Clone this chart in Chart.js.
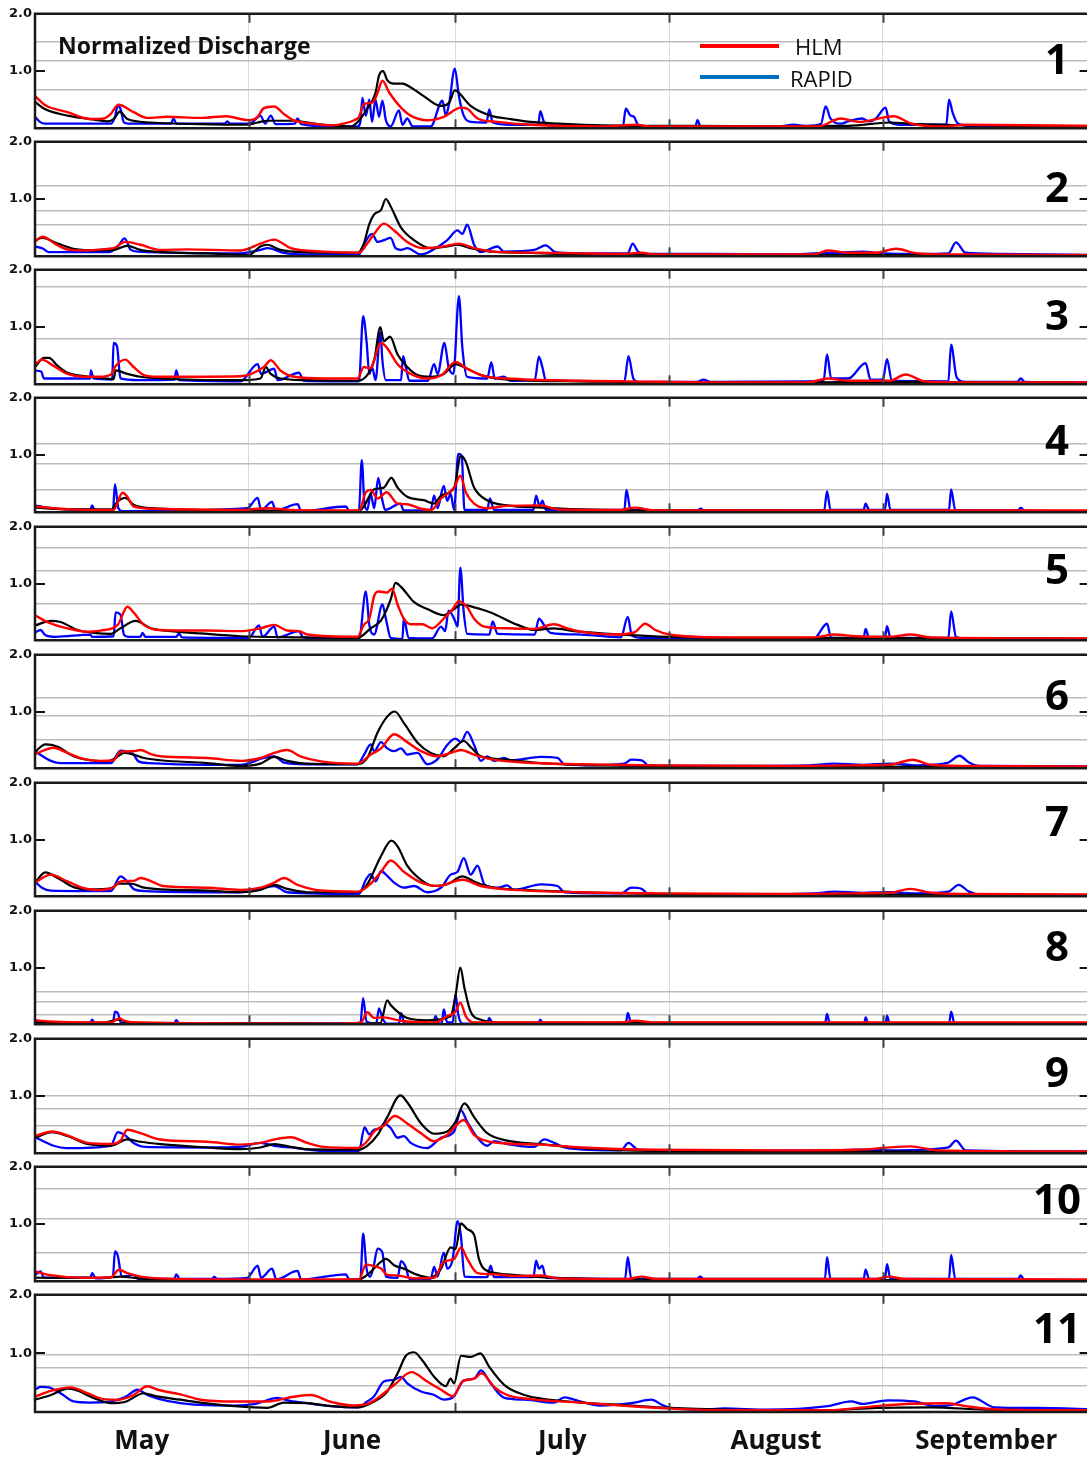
<!DOCTYPE html>
<html>
<head>
<meta charset="utf-8">
<script src="https://cdn.jsdelivr.net/npm/chart.js@4.4.1/dist/chart.umd.min.js"></script>
<style>
  body { margin: 0; background: #fff; }
  #wrap { position: relative; width: 1087px; height: 1458px; overflow: hidden; background: #fff; }
  #wrap canvas { position: absolute; left: 0; }
  .txt { position: absolute; white-space: nowrap; line-height: 1; transform: translateY(-50%); color: #111; }
  .num { position: absolute; line-height: 1; transform: translate(-50%, -50%); font: bold 42px 'Open Sans', sans-serif; color: #000; }
  .key { position: absolute; height: 4px; width: 79px; left: 700px; }
</style>
</head>
<body>
<div id="wrap"></div>
<script>
// x = days since May 1, y = normalized discharge
const monthStarts = [0, 31, 61, 92, 123, 153];
const monthNames = ['May', 'June', 'July', 'August', 'September'];
const yTickLabels = [1, 2];
const panelNames = ['1', '2', '3', '4', '5', '6', '7', '8', '9', '10', '11'];

// flood-threshold lines per panel (normalized)
const thresholds = [
  [1.52, 1.18, 0.68], [1.24, 0.80, 0.55], [1.71, 0.80], [1.19, 0.84, 0.39],
  [1.63, 1.22, 0.65], [1.25, 0.93, 0.51], [], [0.58, 0.39, 0.17],
  [1.0, 0.78, 0.48], [1.61, 1.10, 0.49], [0.97, 0.75, 0.45]
];

// observed (black), HLM (red), RAPID (blue)
const p1obs = [[0,.46],[1.5,.33],[4.7,.22],[8,.16],[10.5,.12],[11.5,.17],[12.3,.29],[13.4,.16],[16.8,.1],[24,.07],[30.8,.06],[32.3,.1],[33.7,.13],[37.5,.13],[40,.09],[42.9,.05],[45.8,.03],[46.8,.11],[48.2,.34],[49.4,.62],[49.9,.92],[50.5,1.0],[51.1,.84],[52.1,.78],[53.3,.78],[54.3,.73],[56.4,.56],[58.9,.39],[60.1,.45],[60.9,.66],[61.3,.64],[63.2,.39],[66.1,.22],[69,.16],[71.9,.11],[76,.08],[82,.05],[95,.04],[110,.03],[115,.04],[118,.04],[124,.1],[128,.07],[135,.05],[154.5,.03]];
const p1hlm = [[0,.56],[1.5,.4],[4.7,.28],[8,.16],[10,.17],[11,.25],[12.1,.41],[14.3,.28],[16.3,.18],[19.2,.2],[24,.18],[27.9,.21],[29.8,.16],[31.2,.14],[32.3,.2],[33.2,.35],[34.7,.38],[36.1,.25],[37.5,.14],[41,.07],[43,.05],[44.8,.08],[46.3,.14],[47,.2],[47.7,.42],[49,.45],[49.7,.62],[50.4,.83],[51.4,.62],[53.1,.36],[54.5,.22],[56.9,.14],[59.3,.2],[61.8,.36],[62.7,.34],[64.2,.17],[67.1,.11],[71.9,.06],[82,.03],[87.4,.06],[89,.03],[113.6,.03],[116.9,.17],[119.4,.11],[124.6,.21],[127.1,.08],[131.9,.03],[135,.06],[154.5,.04]];
const p1rapid = [[0,.2],[0.7,.11],[1.5,.08],[11,.08],[11.6,.2],[12,.39],[12.4,.34],[12.9,.1],[13.5,.08],[19.7,.08],[20.1,.17],[20.5,.08],[27.5,.08],[27.9,.12],[28.3,.08],[31.2,.08],[32.7,.22],[33.4,.08],[34.2,.22],[34.9,.07],[37.7,.08],[38.1,.17],[38.6,.07],[42.9,.03],[46.8,.03],[47.2,.11],[47.5,.53],[48,.22],[48.5,.5],[48.9,.11],[49.4,.5],[49.9,.2],[50.4,.48],[50.9,.14],[51.6,.03],[52.8,.31],[53.3,.06],[54,.17],[54.8,.03],[57.4,.03],[59.1,.48],[59.6,.22],[60.1,.45],[60.9,1.04],[61.5,.56],[62.2,.22],[63.2,.11],[65.5,.1],[65.9,.33],[66.4,.1],[69,.06],[73,.06],[73.3,.3],[73.8,.12],[74.5,.05],[85.3,.04],[85.7,.34],[86.4,.22],[86.9,.2],[87.4,.07],[88,.03],[95.8,.03],[96.1,.14],[96.6,.02],[108,.03],[110,.06],[112,.04],[114,.07],[114.7,.38],[115.4,.17],[116.9,.08],[118,.12],[120,.17],[121,.12],[122,.17],[123.4,.36],[123.9,.12],[125.6,.06],[132.2,.06],[132.6,.5],[133.1,.28],[133.9,.08],[136,.04],[154.5,.03]];

const p2obs = [[0,.28],[1.1,.32],[3.3,.22],[5.6,.13],[9.5,.1],[11.4,.11],[13.4,.18],[15.3,.11],[18.2,.07],[25,.05],[31,.02],[32.7,.17],[33.7,.2],[35.6,.11],[39.5,.07],[46.8,.06],[47.7,.22],[48.5,.56],[49.2,.73],[50.2,.81],[50.9,1.0],[51.6,.87],[53.1,.5],[55,.28],[57.4,.14],[59.8,.17],[61.3,.2],[63.2,.14],[66.1,.08],[71,.06],[79,.03],[100,.02],[154.5,.02]];
const p2hlm = [[0,.26],[1.1,.34],[3,.21],[5,.11],[7.6,.1],[9.5,.12],[11.4,.14],[13.1,.25],[15.3,.2],[18.2,.11],[22,.12],[29.8,.1],[32.7,.22],[34.7,.29],[37.1,.14],[41.9,.08],[47,.06],[48.2,.22],[49.2,.39],[50.6,.57],[52.1,.45],[54,.25],[56.4,.14],[59.3,.17],[61.5,.22],[63.7,.14],[66.6,.08],[73,.06],[79,.05],[85,.04],[88,.06],[90,.03],[113,.03],[115,.1],[118,.06],[122,.06],[124.9,.13],[128,.05],[135,.03],[154.5,.02]];
const p2rapid = [[0,.17],[1.2,.13],[2,.07],[10.7,.07],[12,.17],[13,.31],[13.9,.11],[15,.08],[29.8,.05],[32.7,.11],[33.7,.14],[36.1,.06],[39.5,.03],[47,.03],[47.7,.2],[48.9,.39],[49.7,.25],[50.6,.28],[51.6,.32],[52.3,.14],[53.1,.11],[54,.14],[56,.03],[58.9,.2],[59.8,.28],[61.3,.45],[62,.39],[62.7,.55],[63.7,.2],[64.7,.07],[67.1,.17],[68,.08],[72.4,.11],[74.1,.19],[75.5,.07],[79,.05],[86,.05],[86.7,.22],[87.5,.08],[89,.04],[97,.04],[110,.03],[113,.05],[117,.06],[120,.08],[123,.05],[128,.04],[132.5,.05],[133.6,.24],[135,.06],[140,.04],[154.5,.02]];

const p3obs = [[0,.3],[1.3,.46],[2,.46],[3.3,.32],[4.7,.2],[7.1,.14],[9.5,.11],[11.4,.09],[11.7,.24],[13.4,.18],[15.3,.13],[18,.1],[29.8,.07],[32.7,.1],[33.5,.3],[34.2,.18],[35.6,.1],[39.5,.07],[46.8,.06],[48.2,.16],[49.2,.41],[50.1,1.0],[50.6,.75],[51.5,.83],[52.6,.52],[54,.3],[55.5,.16],[57.4,.13],[59.3,.18],[61,.35],[62.7,.27],[64.7,.16],[68.5,.08],[79,.05],[95,.03],[110,.03],[125,.04],[154.5,.02]];
const p3hlm = [[0,.34],[1,.43],[2.7,.32],[4.7,.18],[7.1,.13],[9.5,.13],[11,.17],[11.7,.32],[13.1,.43],[14.3,.3],[15.8,.16],[18,.13],[29.8,.14],[33.2,.3],[34.2,.42],[35.6,.24],[37.6,.13],[41.9,.1],[46.8,.1],[47.7,.3],[48.6,.28],[50.2,.72],[51.1,.63],[52.6,.35],[54.5,.18],[56.9,.1],[59,.16],[61,.39],[62.7,.27],[65.2,.14],[68.5,.1],[79,.06],[86,.05],[100,.03],[112,.03],[115,.1],[118,.06],[124,.06],[126.3,.17],[129,.05],[135,.03],[154.5,.03]];
const p3rapid = [[0,.24],[0.9,.22],[1.3,.1],[8,.1],[8.1,.24],[8.5,.1],[11.2,.08],[11.4,.72],[11.9,.66],[12.4,.1],[15,.07],[20.2,.08],[20.5,.24],[20.9,.07],[29.8,.05],[32.3,.35],[32.8,.18],[34.7,.27],[35.2,.07],[38.3,.2],[39,.06],[47,.05],[47.6,1.19],[48.1,.75],[48.5,.18],[48.9,.3],[49.4,.07],[50.1,.91],[50.4,.41],[50.9,.07],[53.1,.07],[53.4,.49],[53.8,.3],[54.3,.06],[57,.06],[57.9,.35],[58.4,.18],[59.4,.72],[60,.3],[60.7,.18],[61.5,1.54],[62,.63],[62.7,.13],[65.6,.1],[66.2,.38],[66.7,.1],[68,.13],[69,.06],[72.5,.07],[73.1,.48],[73.6,.3],[74.1,.07],[85.5,.05],[86.1,.49],[86.8,.1],[87.5,.04],[96,.04],[97,.08],[98,.04],[112,.05],[114.4,.06],[114.9,.52],[115.5,.1],[118,.1],[120.5,.37],[121.2,.08],[123,.08],[123.6,.44],[124.3,.06],[132.5,.05],[132.9,.69],[133.7,.12],[135,.04],[142.5,.04],[143,.1],[143.6,.04],[154.5,.03]];

const p4obs = [[0,.08],[5,.05],[11.2,.05],[11.7,.15],[13.1,.25],[14.3,.13],[17,.07],[30,.03],[47,.02],[47.7,.1],[49.2,.4],[50.6,.43],[51.7,.6],[52.6,.43],[54,.27],[56.4,.21],[57.9,.15],[58.9,.29],[60.8,.43],[61.8,.99],[62.5,.88],[63.7,.43],[65.6,.21],[68.5,.12],[73.4,.08],[79,.05],[90,.03],[154.5,.02]];
const p4hlm = [[0,.1],[5,.05],[11.4,.04],[12.7,.34],[13.4,.27],[14.3,.1],[17,.06],[30,.04],[33.7,.07],[37,.04],[47,.03],[48,.35],[48.7,.39],[49.7,.24],[51,.35],[52.6,.15],[54,.14],[56,.06],[57.5,.04],[58.9,.24],[60.8,.43],[61.7,.64],[62.5,.35],[63.7,.15],[65.6,.07],[68.5,.11],[73.4,.12],[75.8,.05],[85,.04],[87,.08],[90,.03],[154.5,.03]];
const p4rapid = [[0,.12],[2.3,.07],[8,.04],[8.3,.12],[8.7,.02],[11.3,.02],[11.6,.49],[12.1,.07],[12.7,.02],[30.8,.07],[32.3,.25],[32.8,.04],[34.4,.18],[34.9,.03],[38.1,.14],[38.6,.02],[45.1,.1],[45.6,.02],[47,.03],[47.4,.91],[47.8,.15],[48.2,.04],[48.7,.32],[49.2,.07],[49.8,.6],[50.3,.26],[50.8,.04],[53,.15],[53.5,.03],[57.4,.04],[57.9,.29],[58.4,.07],[59.3,.46],[59.8,.2],[60.3,.32],[60.8,.04],[61.4,1.02],[61.9,.99],[62.3,.04],[65.6,.04],[66,.24],[66.6,.04],[72.3,.04],[72.7,.29],[73.2,.1],[73.6,.2],[74.1,.04],[85.5,.04],[85.8,.39],[86.4,.04],[96,.03],[96.6,.06],[97,.03],[114.5,.04],[114.9,.37],[115.4,.04],[120.2,.04],[120.5,.15],[121,.04],[123.3,.04],[123.6,.32],[124.1,.04],[132.6,.04],[132.9,.4],[133.5,.04],[142.6,.03],[143,.08],[143.5,.03],[154.5,.02]];

const p5obs = [[0,.26],[2.3,.34],[3.7,.32],[6.2,.18],[8.5,.13],[11,.11],[12.4,.21],[14.6,.34],[16.8,.21],[18,.18],[24,.12],[29.8,.07],[38,.05],[46.8,.04],[48.7,.21],[50.2,.35],[51.6,.72],[52.3,1.01],[53.1,.94],[55,.67],[56.9,.55],[59.3,.44],[60.8,.55],[61.8,.63],[63.7,.58],[66.1,.49],[70,.27],[72.4,.18],[75.3,.21],[78.2,.16],[85,.1],[95,.05],[110,.04],[154.5,.03]];
const p5hlm = [[0,.44],[1.8,.32],[4.7,.21],[7.6,.15],[9.5,.17],[12,.27],[13.4,.59],[14.3,.49],[15.8,.27],[18,.18],[25,.17],[29.8,.16],[32.7,.21],[34.7,.27],[36.6,.17],[38.3,.16],[39.5,.1],[46.8,.06],[47.7,.27],[48.5,.38],[49.2,.78],[49.9,.86],[51.1,.84],[51.8,.91],[52.6,.63],[53.5,.38],[54.5,.28],[56.2,.28],[57.6,.21],[59.3,.38],[60.6,.55],[61.5,.69],[62.7,.58],[63.7,.38],[65.2,.24],[68.5,.21],[72.4,.2],[75.3,.28],[77.2,.21],[79.2,.15],[84,.1],[87,.14],[88.5,.29],[90,.18],[92,.1],[100,.05],[113,.05],[116,.1],[119,.07],[124,.06],[127,.1],[130,.05],[154.5,.03]];
const p5rapid = [[0,.13],[0.8,.18],[1.5,.09],[3,.06],[8,.1],[8.3,.06],[11.4,.07],[11.7,.49],[12.4,.45],[12.9,.1],[13.5,.06],[15.3,.06],[15.6,.13],[16,.06],[20.5,.06],[20.9,.12],[21.3,.05],[31,.04],[32.5,.26],[33,.06],[34.7,.24],[35.2,.05],[38.3,.16],[38.9,.05],[47,.02],[48,.86],[48.5,.27],[49.2,.1],[50.4,.63],[50.9,.38],[51.6,.04],[53.3,.02],[53.5,.39],[54.2,.04],[57.6,.03],[58.9,.24],[59.5,.16],[60,.52],[60.8,.38],[61.3,.24],[61.7,1.28],[62.2,.49],[62.7,.11],[65.9,.1],[66.4,.33],[67.1,.11],[72.5,.1],[73.1,.38],[73.9,.26],[74.8,.13],[79.2,.1],[85,.05],[86,.41],[86.6,.08],[88,.04],[113,.03],[114.9,.29],[115.5,.04],[120.2,.04],[120.5,.2],[121,.04],[123.3,.04],[123.6,.25],[124.1,.04],[132.5,.04],[132.9,.51],[133.6,.06],[135,.03],[154.5,.02]];

const p6obs = [[0,.29],[1.5,.42],[3.3,.38],[5.6,.21],[8,.14],[10.5,.12],[11.7,.18],[12.9,.27],[14.3,.24],[15.8,.18],[18.2,.14],[25,.09],[29.8,.04],[32.7,.08],[34.7,.2],[36.6,.13],[39.5,.08],[46.8,.07],[48.2,.18],[49.7,.63],[51.1,.91],[52.2,1.0],[53.5,.8],[55.5,.45],[57.4,.27],[59.3,.21],[60.8,.35],[62.2,.48],[63.3,.36],[64.7,.21],[67.6,.16],[72.4,.1],[79,.06],[90,.04],[110,.03],[154.5,.02]];
const p6hlm = [[0,.25],[2.7,.36],[4.7,.27],[7.1,.16],[9.5,.13],[11.4,.14],[12.4,.29],[14.3,.3],[15.3,.32],[16.8,.25],[18.2,.21],[25,.18],[29.8,.13],[32.7,.18],[34.7,.27],[36.6,.32],[38.5,.21],[41.5,.12],[46.8,.08],[48.7,.24],[50.2,.35],[52.1,.6],[54,.46],[56,.3],[58.4,.21],[60.3,.27],[61.8,.32],[63.7,.24],[66.1,.16],[71,.1],[79,.07],[90,.05],[110,.04],[118,.05],[124,.06],[127.3,.15],[130,.06],[135,.04],[154.5,.03]];
const p6rapid = [[0,.3],[1,.22],[2.3,.13],[3.7,.09],[11,.09],[12.4,.31],[13.4,.29],[14.3,.24],[15,.12],[16.5,.09],[25,.06],[29.8,.06],[33.2,.18],[34.7,.21],[36.1,.1],[39.5,.07],[46.8,.07],[47.7,.23],[48.7,.42],[49.2,.3],[50.2,.46],[51.1,.35],[52.1,.3],[53.1,.35],[54,.24],[55.5,.27],[56.9,.07],[58.4,.16],[59.8,.41],[61,.52],[61.8,.46],[62.7,.64],[63.7,.41],[64.7,.13],[65.6,.21],[66.6,.13],[68,.18],[69,.14],[73.4,.2],[75.8,.18],[76.8,.07],[80,.05],[85.5,.08],[86.5,.15],[88,.14],[89,.05],[100,.04],[112,.05],[116,.08],[120,.06],[124,.08],[128,.05],[132.5,.1],[134.1,.22],[135.5,.1],[137,.04],[154.5,.03]];

const p7obs = [[0,.24],[1.5,.42],[3.3,.32],[5.6,.16],[8,.12],[11,.14],[12.2,.22],[14.1,.22],[15.5,.16],[18.2,.12],[25,.1],[29.8,.07],[32.7,.11],[34.7,.2],[36.6,.13],[39.5,.07],[46.8,.07],[48.2,.21],[50.2,.71],[51.7,.98],[52.6,.88],[54,.54],[56,.29],[57.9,.18],[59.8,.21],[62,.35],[63.7,.26],[66.1,.16],[70.9,.11],[79,.07],[90,.04],[110,.03],[154.5,.02]];
const p7hlm = [[0,.24],[2.3,.38],[4.7,.26],[7.1,.14],[9.5,.11],[11.4,.16],[12.4,.26],[14.3,.27],[15.3,.32],[17.3,.24],[18.5,.18],[25,.15],[29.8,.11],[32.7,.15],[34.7,.24],[36.1,.32],[38.1,.2],[41.5,.1],[46.8,.08],[48.7,.22],[50.2,.43],[51.6,.63],[53.5,.43],[56,.24],[58.4,.18],[62,.29],[64.7,.18],[68.5,.12],[79,.07],[90,.05],[110,.04],[118,.05],[124,.06],[127,.13],[130,.06],[135,.04],[154.5,.03]];
const p7rapid = [[0,.26],[1,.15],[2.3,.1],[11,.09],[12.4,.35],[13.4,.26],[14.4,.12],[16,.09],[25,.07],[29.8,.07],[33.2,.15],[34.7,.18],[36.6,.07],[47,.04],[48,.29],[48.7,.39],[49.4,.26],[50.2,.44],[51.1,.36],[52.1,.24],[53.5,.15],[55,.18],[56.9,.07],[58.9,.15],[60.3,.38],[61.3,.43],[62.2,.67],[63.2,.38],[64.2,.54],[65.2,.21],[67.1,.15],[68.5,.19],[69.5,.11],[73.4,.21],[75.8,.18],[76.8,.07],[85,.05],[86.5,.15],[88,.13],[89,.04],[100,.03],[113,.05],[116,.08],[120,.06],[124,.07],[128,.05],[132.5,.08],[134,.2],[135.5,.08],[137,.03],[154.5,.02]];

const p8obs = [[0,.03],[10,.03],[12.2,.08],[13.5,.03],[30,.02],[44.4,.01],[50.1,.02],[51.1,.42],[51.6,.34],[52.8,.2],[54,.11],[57,.07],[60.3,.14],[61,.5],[61.7,1.0],[62.3,.64],[63.2,.22],[64.7,.08],[68,.03],[154.5,.02]];
const p8hlm = [[0,.07],[2,.05],[11,.03],[12.2,.1],[13,.06],[15,.03],[44.4,.01],[47.3,.03],[48.2,.21],[49.2,.11],[50.6,.12],[53,.06],[58,.03],[59.8,.14],[61,.22],[61.7,.38],[62.5,.14],[63.7,.03],[85,.03],[87,.06],[90,.03],[154.5,.03]];
const p8rapid = [[0,.06],[1.2,.03],[8,.02],[8.3,.08],[8.7,.01],[11.3,.02],[11.6,.22],[12,.2],[12.5,.02],[20.2,.02],[20.5,.07],[20.9,.02],[47.2,.01],[47.6,.46],[48.1,.05],[49.5,.01],[49.9,.28],[50.4,.11],[51,.01],[52.8,.01],[53.1,.2],[53.6,.01],[57.8,.01],[58.1,.14],[58.6,.01],[59,.01],[59.3,.26],[59.8,.03],[60.6,.03],[61,.53],[61.4,.17],[62,.01],[65.5,.01],[65.9,.11],[66.4,.01],[73,.01],[73.3,.08],[73.7,.01],[85.7,.01],[86,.2],[86.5,.01],[114.6,.01],[114.9,.18],[115.3,.01],[120.3,.01],[120.5,.12],[120.9,.01],[123.4,.01],[123.6,.15],[124,.01],[132.6,.01],[132.9,.22],[133.4,.01],[154.5,.01]];

const p9obs = [[0,.27],[2.5,.37],[4.7,.3],[7.6,.16],[11,.13],[13.4,.24],[15.3,.2],[18.2,.16],[25,.1],[29.8,.07],[32.7,.1],[34.7,.16],[37.1,.11],[39.5,.07],[46.8,.06],[48.2,.13],[49.7,.32],[51.1,.63],[53,1.01],[54,.89],[56,.52],[57.9,.34],[59.8,.38],[61,.55],[62.3,.87],[63.7,.63],[65.6,.35],[68.5,.22],[73.4,.16],[79.2,.09],[90,.04],[110,.03],[154.5,.02]];
const p9hlm = [[0,.3],[2.5,.38],[4.7,.31],[7.6,.18],[11,.16],[12.4,.22],[13.4,.41],[15.3,.35],[18.2,.24],[25,.2],[29.8,.15],[32.7,.18],[34.7,.24],[37.1,.28],[39.5,.18],[41.9,.11],[46.8,.09],[48.2,.21],[49.2,.38],[50.6,.48],[52.2,.65],[54,.52],[56,.35],[57.9,.21],[59.8,.32],[62.2,.58],[63.7,.32],[65.6,.21],[68.5,.17],[73.4,.15],[79.2,.1],[90,.06],[110,.05],[119,.06],[127,.12],[131,.05],[154.5,.03]];
const p9rapid = [[0,.28],[1.2,.21],[2.7,.13],[4.5,.09],[11,.13],[12,.37],[13,.32],[14.3,.18],[16,.11],[25,.1],[29.8,.11],[32.7,.18],[34.7,.13],[37.1,.1],[42,.04],[47,.04],[47.8,.45],[48.5,.33],[49.2,.41],[50.2,.44],[50.6,.52],[51.6,.44],[52.6,.27],[53.5,.3],[54.5,.18],[56.9,.09],[58.9,.27],[60.8,.38],[61.8,.75],[62.7,.55],[64.2,.27],[65.6,.13],[66.6,.21],[68.5,.16],[72.4,.11],[73.9,.24],[75.3,.18],[77.2,.09],[85,.05],[86.1,.18],[87.5,.06],[95,.04],[115,.05],[120,.06],[125,.05],[132.5,.1],[133.6,.22],[135,.05],[154.5,.03]];

const p10obs = [[0,.06],[10,.06],[12.4,.08],[15,.05],[30,.01],[47,.03],[48.2,.11],[50.2,.34],[50.9,.39],[52.1,.28],[53.5,.22],[55.5,.11],[57.4,.06],[58.9,.22],[60.3,.59],[61,.56],[61.8,1.01],[62.7,.91],[63.7,.81],[64.4,.39],[65.3,.2],[68.5,.12],[73.4,.07],[80,.04],[100,.02],[154.5,.02]];
const p10hlm = [[0,.17],[2,.11],[7,.06],[11,.07],[12.2,.2],[13.4,.14],[15.3,.08],[18,.05],[30,.03],[47,.03],[48,.29],[49,.27],[50.2,.22],[51.1,.11],[52.6,.1],[53.5,.08],[55,.05],[57.9,.06],[59.3,.34],[60.8,.39],[61.8,.59],[62.7,.39],[64.2,.14],[66.6,.12],[70,.09],[73.4,.1],[75.8,.05],[86,.04],[88,.08],[90,.04],[122,.04],[124,.08],[126,.04],[154.5,.03]];
const p10rapid = [[0,.11],[0.8,.17],[1.3,.06],[8,.06],[8.3,.14],[8.8,.05],[11.3,.08],[11.6,.52],[12,.45],[12.6,.08],[14.3,.11],[15,.04],[20.2,.04],[20.5,.12],[21,.04],[25.7,.04],[26,.08],[26.4,.04],[30.8,.06],[32.3,.27],[32.8,.06],[34.4,.22],[35,.03],[38.1,.18],[38.6,.03],[45.1,.12],[45.6,.03],[47.2,.03],[47.6,.83],[48.1,.22],[48.6,.08],[49.1,.24],[49.7,.57],[50.4,.5],[50.9,.08],[52.6,.06],[53.1,.35],[53.8,.24],[54.3,.04],[57.4,.04],[57.9,.25],[58.4,.08],[59.3,.5],[59.8,.22],[60.6,.39],[61.3,1.05],[61.8,.78],[62.3,.08],[65.6,.07],[66.1,.27],[66.6,.07],[72.3,.07],[72.7,.36],[73.1,.22],[73.6,.27],[74.1,.06],[85.6,.04],[86,.42],[86.5,.04],[96,.04],[96.5,.08],[97,.04],[114.6,.04],[114.9,.42],[115.4,.04],[120.2,.04],[120.5,.2],[121,.04],[123.3,.04],[123.6,.3],[124.1,.04],[132.6,.04],[132.9,.46],[133.5,.04],[142.6,.04],[143,.1],[143.5,.03],[154.5,.02]];

const p11obs = [[0,.21],[2.3,.29],[4.7,.4],[5.8,.38],[8.5,.24],[11,.15],[13,.17],[15.8,.32],[17.5,.27],[21.1,.21],[24,.16],[28.9,.1],[33.7,.07],[36.1,.16],[39.5,.15],[43,.1],[46.8,.08],[49.2,.18],[51.1,.35],[52.6,.66],[53.8,.96],[55,1.02],[56.2,.88],[57.9,.6],[59.6,.44],[60.3,.57],[60.8,.49],[61.8,.96],[63.2,.94],[64.6,1.0],[65.9,.77],[68.1,.46],[71,.29],[73.4,.23],[79.2,.16],[85,.12],[92,.07],[100,.04],[115,.03],[122,.07],[130,.08],[138,.04],[154.5,.03]];
const p11hlm = [[0,.26],[2.3,.36],[5.2,.42],[7.6,.32],[10,.22],[12.1,.21],[14.3,.29],[16.3,.44],[17.8,.38],[21.1,.3],[24,.21],[28.9,.18],[33.7,.18],[37.5,.26],[40,.29],[43,.17],[46.2,.11],[48.5,.15],[52.1,.46],[54.6,.68],[56.9,.52],[58.9,.38],[60.6,.27],[62,.52],[63.7,.57],[64.8,.66],[66.6,.43],[68.5,.29],[71.9,.22],[79.2,.16],[85,.11],[92,.06],[100,.03],[115,.03],[122,.1],[127,.14],[132.4,.15],[135,.1],[140,.04],[154.5,.03]];
const p11rapid = [[0,.38],[0.8,.43],[2,.42],[3.7,.32],[5.6,.18],[8,.16],[11,.18],[13,.25],[14.9,.38],[16.3,.29],[17.8,.23],[21.1,.15],[24,.12],[28.9,.11],[32,.14],[35.2,.24],[37,.19],[39.5,.15],[43,.1],[46.8,.08],[48.2,.18],[49.2,.27],[50.6,.52],[52.1,.55],[53.1,.6],[54,.49],[56,.35],[57.9,.29],[59.3,.21],[60.8,.27],[62.2,.54],[63.7,.57],[64.7,.71],[66.1,.49],[68.1,.24],[71,.21],[75.3,.16],[76.8,.25],[78.2,.21],[82,.11],[86.5,.15],[89.4,.21],[91,.12],[92.3,.07],[96.6,.04],[100,.06],[106,.04],[115,.1],[118.4,.18],[120,.14],[123.7,.2],[127.6,.18],[130.5,.1],[133,.12],[136,.25],[139.2,.08],[145,.07],[154.5,.04]];

const obsSeries = [p1obs, p2obs, p3obs, p4obs, p5obs, p6obs, p7obs, p8obs, p9obs, p10obs, p11obs];
const hlmSeries = [p1hlm, p2hlm, p3hlm, p4hlm, p5hlm, p6hlm, p7hlm, p8hlm, p9hlm, p10hlm, p11hlm];
const rapidSeries = [p1rapid, p2rapid, p3rapid, p4rapid, p5rapid, p6rapid, p7rapid, p8rapid, p9rapid, p10rapid, p11rapid];

// layout
const FIRST_TOP = 11, STEP = 128.13, PANEL_H = 119.5, PAD = 8, X_AXIS_H = 46;
const CANVAS_W = 1100, X_END = 154.5, RIGHT_EDGE = 152.7;
const numberY = [57, 185, 313, 438, 567, 693, 819, 944, 1070, 1197, 1326];

const boundaries = monthStarts.slice(1, 5);
const monthCenters = monthNames.map((m, k) => (monthStarts[k] + monthStarts[k + 1]) / 2);
const xTicks = boundaries.concat(monthCenters).sort((a, b) => a - b);

const framePlugin = {
  id: 'frame',
  afterDraw(chart) {
    const { ctx, chartArea: a, scales: { x, y } } = chart;
    ctx.save();
    // month ticks, inward at top and bottom
    ctx.strokeStyle = '#444';
    ctx.lineWidth = 2;
    ctx.beginPath();
    boundaries.forEach(d => {
      const px = Math.round(x.getPixelForValue(d)) + 0.5;
      ctx.moveTo(px, a.top); ctx.lineTo(px, a.top + 9);
      ctx.moveTo(px, a.bottom - 9); ctx.lineTo(px, a.bottom);
    });
    ctx.stroke();
    // 1.0 tick on both sides
    const py = Math.round(y.getPixelForValue(1));
    const rx = x.getPixelForValue(RIGHT_EDGE);
    ctx.strokeStyle = '#111';
    ctx.beginPath();
    ctx.moveTo(a.left, py); ctx.lineTo(a.left + 10, py);
    ctx.moveTo(rx - 8, py); ctx.lineTo(rx, py);
    ctx.stroke();
    // frame (right side is off-page)
    ctx.strokeStyle = '#1a1a1a';
    ctx.lineWidth = 2.5;
    ctx.beginPath();
    ctx.moveTo(a.right + 5, a.top); ctx.lineTo(a.left, a.top);
    ctx.lineTo(a.left, a.bottom); ctx.lineTo(a.right + 5, a.bottom);
    ctx.stroke();
    ctx.restore();
  }
};

const wrap = document.getElementById('wrap');

panelNames.forEach((name, i) => {
  const top = Math.round(FIRST_TOP + i * STEP);
  const bottom = Math.round(FIRST_TOP + i * STEP + PANEL_H);
  const last = i === panelNames.length - 1;
  const th = thresholds[i];
  const h = PAD + (bottom - top) + (last ? X_AXIS_H : PAD);

  const c = document.createElement('canvas');
  c.width = CANVAS_W; c.height = h;
  c.style.width = CANVAS_W + 'px'; c.style.height = h + 'px';
  c.style.top = (top - PAD) + 'px';
  wrap.appendChild(c);

  new Chart(c, {
    type: 'line',
    data: {
      datasets: [
        { label: 'HLM', data: hlmSeries[i], borderColor: '#ff0000', borderWidth: 2.4 },
        { label: 'Observed', data: obsSeries[i], borderColor: '#000000', borderWidth: 2.2 },
        { label: 'RAPID', data: rapidSeries[i], borderColor: '#0000ff', borderWidth: 2.3 }
      ]
    },
    options: {
      responsive: false,
      animation: false,
      devicePixelRatio: 1,
      layout: { padding: { top: PAD, bottom: last ? 0 : PAD, left: 0, right: 0 } },
      elements: {
        point: { radius: 0 },
        line: { cubicInterpolationMode: 'monotone', fill: false }
      },
      plugins: { legend: { display: false }, tooltip: { enabled: false } },
      scales: {
        x: {
          type: 'linear', min: 0, max: X_END,
          afterBuildTicks: s => { s.ticks = xTicks.map(v => ({ value: v })); },
          afterFit: s => { s.height = last ? X_AXIS_H : 0; },
          border: { display: false },
          grid: {
            drawTicks: false, lineWidth: 1,
            color: ctx => boundaries.includes(ctx.tick.value) ? '#d9d9d9' : 'rgba(0,0,0,0)'
          },
          ticks: {
            display: last, autoSkip: false, maxRotation: 0, padding: 14, color: '#111',
            font: { family: 'Open Sans', weight: 'bold', size: 26 },
            callback: v => { const k = monthCenters.indexOf(v); return k >= 0 ? monthNames[k] : ''; }
          }
        },
        y: {
          min: 0, max: 2,
          afterBuildTicks: s => {
            const vals = [...new Set([0, ...th, ...yTickLabels])].sort((a, b) => a - b);
            s.ticks = vals.map(v => ({ value: v }));
          },
          afterFit: s => { s.width = 35; },
          border: { display: false },
          grid: {
            drawTicks: false, lineWidth: 1.5,
            color: ctx => th.includes(ctx.tick.value) ? '#bdbdbd' : 'rgba(0,0,0,0)'
          },
          ticks: {
            autoSkip: false, padding: 3, color: '#111',
            font: { family: 'DejaVu Sans', weight: 'bold', size: 13 },
            callback: v => yTickLabels.includes(v) ? v.toFixed(1) : ''
          }
        }
      }
    },
    plugins: [framePlugin]
  });

  const n = document.createElement('div');
  n.className = 'num';
  n.textContent = name;
  n.style.left = '1057px';
  n.style.top = numberY[i] + 'px';
  wrap.appendChild(n);
});

// title and legend in the first panel
function addText(text, left, top, font) {
  const d = document.createElement('div');
  d.className = 'txt';
  d.textContent = text;
  d.style.left = left + 'px';
  d.style.top = top + 'px';
  d.style.font = font;
  wrap.appendChild(d);
}
function addKey(top, color) {
  const d = document.createElement('div');
  d.className = 'key';
  d.style.top = top + 'px';
  d.style.background = color;
  wrap.appendChild(d);
}
addText('Normalized Discharge', 58, 45, "bold 23px 'Open Sans', sans-serif");
addKey(44, '#ff0000');
addText('HLM', 795, 46, "22px 'Open Sans', sans-serif");
addKey(75, '#0070c0');
addText('RAPID', 790, 78, "22px 'Open Sans', sans-serif");
</script>
</body>
</html>
